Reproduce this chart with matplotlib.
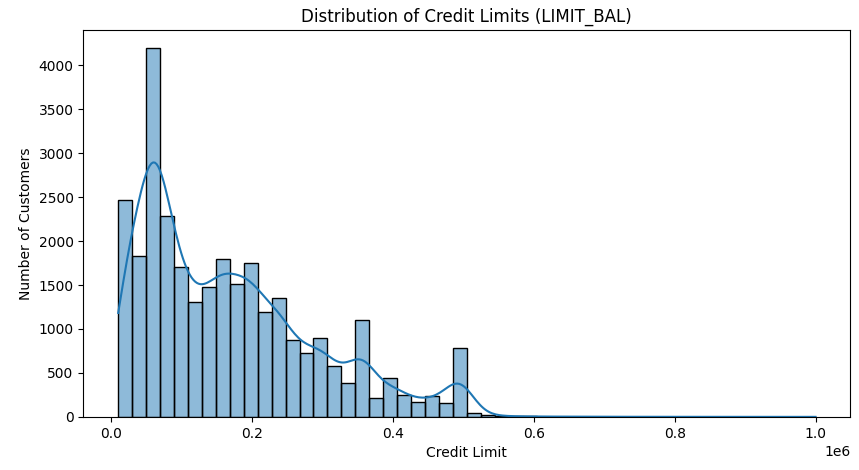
import numpy as np
import matplotlib
matplotlib.use("Agg")
import matplotlib.pyplot as plt

range_min, range_max, n_bins = 10000, 1000000, 50
counts = [2470, 1830, 4190, 2290, 1700, 1310, 1480, 1800, 1510, 1750,
          1190, 1350, 870, 730, 900, 580, 390, 1100, 220, 440,
          250, 170, 240, 160, 780, 40, 20, 10, 6, 5,
          4, 3, 3, 2, 2, 2, 1, 1, 1, 1,
          1, 1, 0, 1, 0, 0, 1, 0, 0, 1]

edges = np.linspace(range_min, range_max, n_bins + 1)
width = edges[1] - edges[0]
centers = (edges[:-1] + edges[1:]) / 2
w = np.array(counts, float)

fig = plt.figure(figsize=(8.59, 4.70), dpi=100)
ax = fig.add_axes([0.097, 0.113, 0.893, 0.823])
ax.bar(edges[:-1], counts, width=width, align="edge", color="#1f77b4",
       alpha=0.5, edgecolor="none")
ax.bar(edges[:-1], counts, width=width, align="edge", fill=False,
       edgecolor="black", linewidth=1)

# weighted Gaussian KDE from the histogram
n = w.sum()
mean = (w * centers).sum() / n
std = np.sqrt((w * (centers - mean) ** 2).sum() / n)
bw = 1.25 * std * n ** (-1 / 5)
xs = np.linspace(range_min, range_max, 400)
dens = (w[None, :] * np.exp(-0.5 * ((xs[:, None] - centers[None, :]) / bw) ** 2)).sum(1)
dens /= n * bw * np.sqrt(2 * np.pi)
ax.plot(xs, dens * n * width, color="#1f77b4", linewidth=1.5)

ax.set_title("Distribution of Credit Limits (LIMIT_BAL)")
ax.set_xlabel("Credit Limit")
ax.set_ylabel("Number of Customers")
fig.savefig("out.png", dpi=100)
